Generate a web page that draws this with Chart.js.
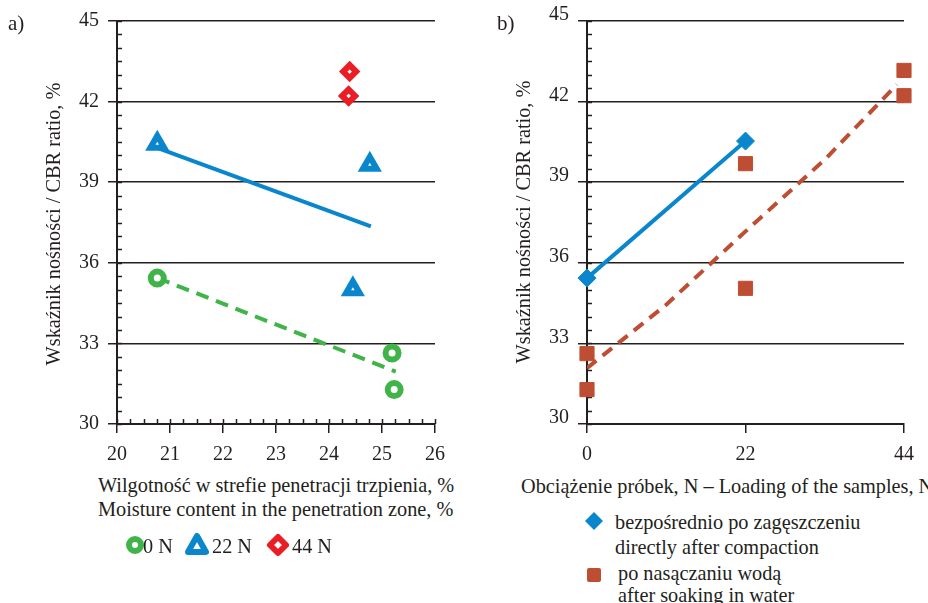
<!DOCTYPE html>
<html>
<head>
<meta charset="utf-8">
<script src="https://cdn.jsdelivr.net/npm/chart.js@4"></script>
<style>
  html, body { margin: 0; padding: 0; background: #fff; }
  body { width: 928px; height: 603px; position: relative; overflow: hidden;
         font-family: "Liberation Serif", "Times New Roman", serif; color: #231f20; }
  .panel { position: absolute; top: 0; }
  .txt { position: absolute; white-space: nowrap; font-size: 20.3px; line-height: 1; }
  .ytitle { transform: translate(-50%, -50%) rotate(-90deg); }
  .mid { transform: translateY(-50%); }
  svg { position: absolute; overflow: visible; }
</style>
</head>
<body>
<canvas id="chartA" class="panel" style="left:0" width="470" height="470"></canvas>
<canvas id="chartB" class="panel" style="left:470px" width="458" height="470"></canvas>

<div class="txt" style="left:8px;top:13px;font-size:21px">a)</div>
<div class="txt" style="left:497px;top:13px;font-size:21px">b)</div>

<div class="txt ytitle" style="left:53px;top:224px">Wskaźnik nośności / CBR ratio, %</div>
<div class="txt ytitle" style="left:523px;top:222px">Wskaźnik nośności / CBR ratio, %</div>

<div class="txt mid" style="left:98px;top:485px">Wilgotność w strefie penetracji trzpienia, %</div>
<div class="txt mid" style="left:98px;top:509px">Moisture content in the penetration zone, %</div>
<div class="txt mid" style="left:521px;top:486px">Obciążenie próbek, N – Loading of the samples, N</div>

<!-- legend a) -->
<svg style="left:0;top:0" width="1" height="1">
  <circle cx="135" cy="545" r="6" fill="#fff" stroke="#40b449" stroke-width="6"/>
  <polygon points="197,536 206,552 188,552" fill="#fff" stroke="#0a87cc" stroke-width="6" stroke-linejoin="round"/>
  <polygon points="278,537 286,545 278,553 270,545" fill="#fff" stroke="#ea1d25" stroke-width="6" stroke-linejoin="round"/>
  <polygon points="594,512 603,521 594,530 585,521" fill="#0a87cc"/>
  <rect x="587" y="568" width="14" height="14" rx="2" fill="#be4e33"/>
</svg>
<div class="txt mid" style="left:143px;top:546px">0 N</div>
<div class="txt mid" style="left:212px;top:546px">22 N</div>
<div class="txt mid" style="left:292px;top:546px">44 N</div>

<!-- legend b) -->
<div class="txt mid" style="left:615px;top:522px">bezpośrednio po zagęszczeniu</div>
<div class="txt mid" style="left:615px;top:547px">directly after compaction</div>
<div class="txt mid" style="left:618px;top:573px">po nasączaniu wodą</div>
<div class="txt mid" style="left:618px;top:595px">after soaking in water</div>

<script>
// a) CBR vs moisture content
const moisture0N = [20.76, 25.19, 25.23];
const cbr0N = [35.43, 32.64, 31.28];
const moisture22N = [20.76, 24.77, 24.45];
const cbr22N = [40.43, 39.65, 35.02];
const moisture44N = [24.39, 24.37];
const cbr44N = [43.12, 42.21];
const trend0NX = [20.76, 25.26];
const trend0NY = [35.44, 31.95];
const trend22NX = [20.76, 24.79];
const trend22NY = [40.28, 37.36];

// b) CBR vs loading
const loadDirect = [0, 22];
const cbrDirect = [35.43, 40.53];
const loadSoaked = [0, 0, 22, 22, 44, 44];
const cbrSoaked = [32.62, 31.28, 39.69, 35.05, 43.16, 42.22];
const trendSoakedX = [0, 11, 22, 33, 43];
const trendSoakedY = [32.08, 34.44, 37.17, 39.84, 42.63];

const GREEN = '#40b449', BLUE = '#0a87cc', RED = '#ea1d25', BROWN = '#be4e33', INK = '#231f20';
const FONT = { family: '"Liberation Serif", "Times New Roman", serif', size: 20 };

/** Zips two arrays into {x, y} points. */
function pts(xs, ys) {
    return xs.map((x, i) => ({ x, y: ys[i] }));
}

/** Draws the small inner tick marks between the labelled ones. */
const minorTicks = {
    id: 'minorTicks',
    beforeDatasetsDraw(chart, args, opts) {
        const ctx = chart.ctx;
        const { left, bottom } = chart.chartArea;
        ctx.save();
        ctx.strokeStyle = INK;
        ctx.lineWidth = 1.5;
        ['x', 'y'].forEach(axis => {
            const o = opts[axis];
            if (!o) return;
            const s = chart.scales[axis];
            for (let v = s.min; v <= s.max + 1e-9; v += o.step) {
                const p = Math.round(s.getPixelForValue(v)) + 0.5;
                ctx.beginPath();
                if (axis === 'x') { ctx.moveTo(p, bottom); ctx.lineTo(p, bottom - o.len); }
                else { ctx.moveTo(left, p); ctx.lineTo(left + o.len, p); }
                ctx.stroke();
            }
        });
        ctx.restore();
    }
};

function baseOptions(x, minor, yLabelOffset, padRight) {
    return {
        responsive: false,
        animation: false,
        layout: { padding: { left: 0, top: 21, right: padRight, bottom: 6 } },
        plugins: { legend: { display: false }, tooltip: { enabled: false }, minorTicks: minor },
        scales: {
            x: {
                type: 'linear', min: x.min, max: x.max,
                afterFit: s => { s.height = 40; },
                ticks: { stepSize: x.step, color: INK, font: FONT, padding: 10, maxRotation: 0 },
                grid: { drawOnChartArea: false, drawTicks: true, tickLength: 9, color: INK, lineWidth: 1.5 },
                border: { display: true, color: INK, width: 2 }
            },
            y: {
                type: 'linear', min: 30, max: 45,
                afterFit: s => { s.width = 117; },
                ticks: { stepSize: 3, color: INK, font: FONT, padding: 9, labelOffset: yLabelOffset },
                grid: { drawTicks: true, tickLength: 9, color: INK, lineWidth: 1.5 },
                border: { display: true, color: INK, width: 2 }
            }
        }
    };
}

new Chart(document.getElementById('chartA'), {
    type: 'scatter',
    data: {
        datasets: [
            { data: pts(moisture0N, cbr0N), pointStyle: 'circle', pointRadius: 6.5, pointBorderWidth: 6,
              borderColor: GREEN, backgroundColor: '#fff', order: 0, clip: false },
            { data: pts(moisture22N, cbr22N), pointStyle: 'triangle', pointRadius: 8, pointBorderWidth: 6,
              borderColor: BLUE, backgroundColor: '#fff', order: 0, clip: false },
            { data: pts(moisture44N, cbr44N), pointStyle: 'rectRot', pointRadius: 6.5, pointBorderWidth: 6,
              borderColor: RED, backgroundColor: '#fff', order: 0, clip: false },
            { data: pts(trend0NX, trend0NY), showLine: true, pointRadius: 0, borderColor: GREEN,
              borderWidth: 4, borderDash: [13, 8], order: 1 },
            { data: pts(trend22NX, trend22NY), showLine: true, pointRadius: 0, borderColor: BLUE,
              borderWidth: 4, order: 1 }
        ]
    },
    options: baseOptions({ min: 20, max: 26, step: 1 }, { x: { step: 0.25, len: 5 }, y: { step: 0.5, len: 5 } }, 0, 35),
    plugins: [minorTicks]
});

new Chart(document.getElementById('chartB'), {
    type: 'scatter',
    data: {
        datasets: [
            { data: pts(loadDirect, cbrDirect), showLine: true, pointStyle: 'rectRot', pointRadius: 9,
              pointBorderWidth: 1, borderColor: BLUE, backgroundColor: BLUE, borderWidth: 4, order: 0, clip: false },
            { data: pts(loadSoaked, cbrSoaked), pointStyle: 'rect', pointRadius: 10, pointBorderWidth: 1,
              borderColor: BROWN, backgroundColor: BROWN, order: 1, clip: false },
            { data: pts(trendSoakedX, trendSoakedY), showLine: true, pointRadius: 0, borderColor: BROWN,
              borderWidth: 4, borderDash: [12, 8], order: 2 }
        ]
    },
    options: baseOptions({ min: 0, max: 44, step: 22 }, { y: { step: 0.5, len: 5 } }, -6, 24),
    plugins: [minorTicks]
});
</script>
</body>
</html>
